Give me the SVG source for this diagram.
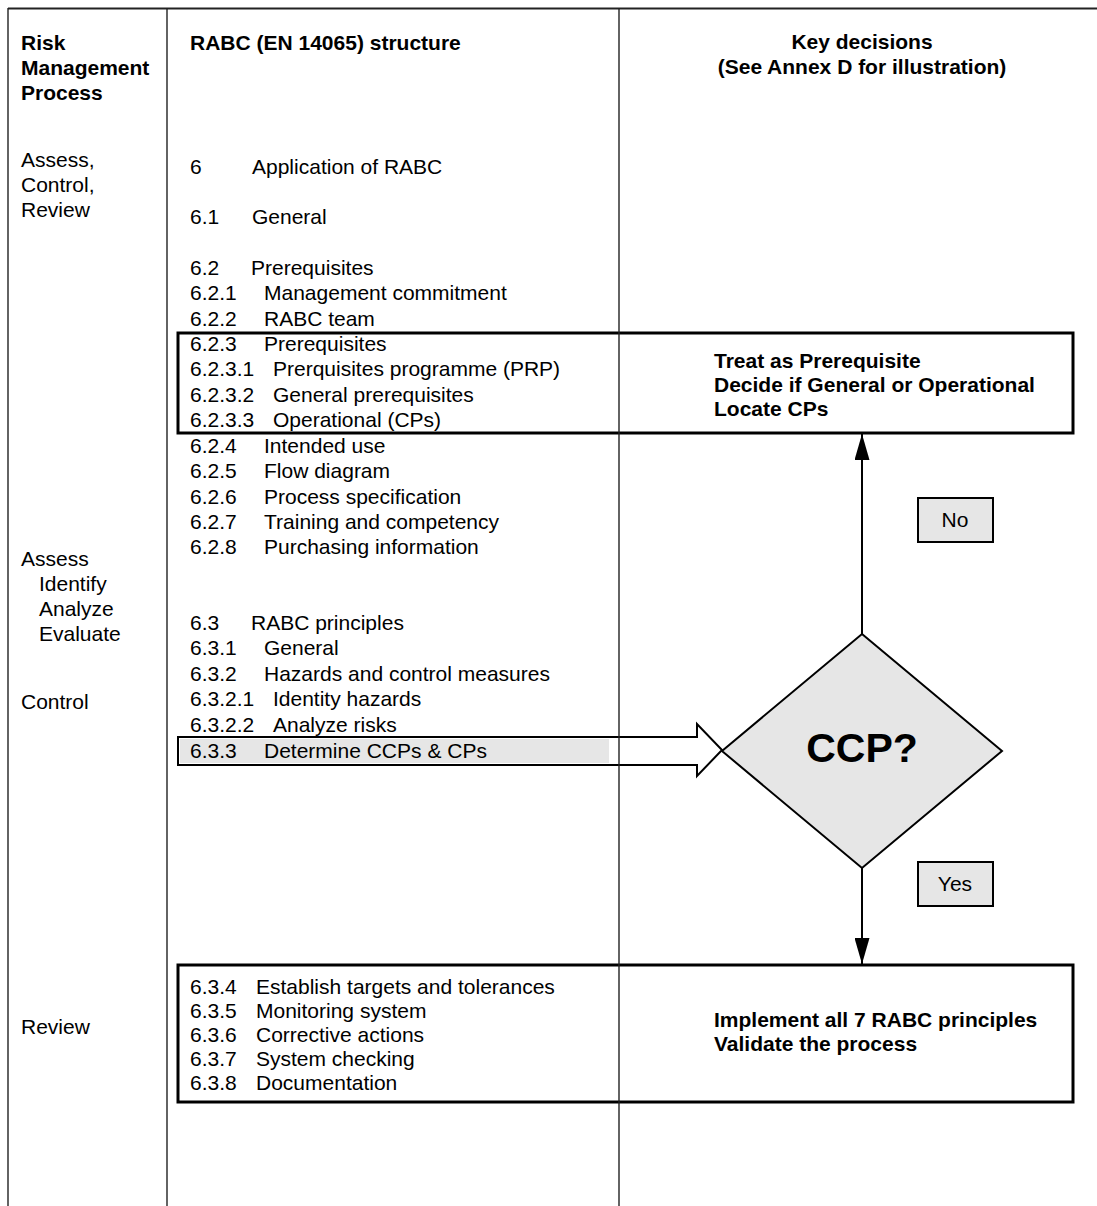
<svg xmlns="http://www.w3.org/2000/svg" width="1097" height="1206" viewBox="0 0 1097 1206">
<style>
text{font-family:"Liberation Sans",Arial,sans-serif;font-size:21px;fill:#000}
.b{font-weight:bold}
.grid{stroke:#222;stroke-width:1.4;fill:none}
.box{fill:none;stroke:#000;stroke-width:3}
.lbl{fill:#e6e6e6;stroke:#000;stroke-width:2}
.c{text-anchor:middle}
</style>
<defs>
<marker id="ah" markerWidth="26" markerHeight="15" refX="26" refY="7.5" orient="auto" markerUnits="userSpaceOnUse" viewBox="0 0 26 15">
<path d="M0,0 L26,7.5 L0,15 Z" fill="#000"/>
</marker>
</defs>
<rect width="1097" height="1206" fill="#fff"/>

<g id="headers">
<text class="b" x="21" y="50">Risk</text>
<text class="b" x="21" y="75">Management</text>
<text class="b" x="21" y="100">Process</text>
<text class="b" x="190" y="50">RABC (EN 14065) structure</text>
<text class="b c" x="862" y="49">Key decisions</text>
<text class="b c" x="862" y="74">(See Annex D for illustration)</text>
</g>

<g id="process-column">
<text x="21" y="167">Assess,</text>
<text x="21" y="192">Control,</text>
<text x="21" y="217">Review</text>
<text x="21" y="566">Assess</text>
<text x="39" y="591">Identify</text>
<text x="39" y="616">Analyze</text>
<text x="39" y="641">Evaluate</text>
<text x="21" y="709">Control</text>
<text x="21" y="1034">Review</text>
</g>

<g id="structure-list">
<text x="190" y="174">6</text><text x="252" y="174">Application of RABC</text>
<text x="190" y="224">6.1</text><text x="252" y="224">General</text>
<text x="190" y="275">6.2</text><text x="251" y="275">Prerequisites</text>
<text x="190" y="300">6.2.1</text><text x="264" y="300">Management commitment</text>
<text x="190" y="326">6.2.2</text><text x="264" y="326">RABC team</text>
<text x="190" y="351">6.2.3</text><text x="264" y="351">Prerequisites</text>
<text x="190" y="376">6.2.3.1</text><text x="273" y="376">Prerquisites programme (PRP)</text>
<text x="190" y="402">6.2.3.2</text><text x="273" y="402">General prerequisites</text>
<text x="190" y="427">6.2.3.3</text><text x="273" y="427">Operational (CPs)</text>
<text x="190" y="453">6.2.4</text><text x="264" y="453">Intended use</text>
<text x="190" y="478">6.2.5</text><text x="264" y="478">Flow diagram</text>
<text x="190" y="504">6.2.6</text><text x="264" y="504">Process specification</text>
<text x="190" y="529">6.2.7</text><text x="264" y="529">Training and competency</text>
<text x="190" y="554">6.2.8</text><text x="264" y="554">Purchasing information</text>
<text x="190" y="630">6.3</text><text x="251" y="630">RABC principles</text>
<text x="190" y="655">6.3.1</text><text x="264" y="655">General</text>
<text x="190" y="681">6.3.2</text><text x="264" y="681">Hazards and control measures</text>
<text x="190" y="706">6.3.2.1</text><text x="273" y="706">Identity hazards</text>
<text x="190" y="732">6.3.2.2</text><text x="273" y="732">Analyze risks</text>
</g>

<g id="principles-box">
<rect class="box" x="178" y="965" width="895" height="137"/>
<text x="190" y="994">6.3.4</text><text x="256" y="994">Establish targets and tolerances</text>
<text x="190" y="1018">6.3.5</text><text x="256" y="1018">Monitoring system</text>
<text x="190" y="1042">6.3.6</text><text x="256" y="1042">Corrective actions</text>
<text x="190" y="1066">6.3.7</text><text x="256" y="1066">System checking</text>
<text x="190" y="1090">6.3.8</text><text x="256" y="1090">Documentation</text>
<text class="b" x="714" y="1027">Implement all 7 RABC principles</text>
<text class="b" x="714" y="1051">Validate the process</text>
</g>

<g id="prerequisite-box">
<rect class="box" x="178" y="333" width="895" height="100"/>
<text class="b" x="714" y="368">Treat as Prerequisite</text>
<text class="b" x="714" y="392">Decide if General or Operational</text>
<text class="b" x="714" y="416">Locate CPs</text>
</g>

<g id="determine-arrow">
<polygon points="178,737 697,737 697,724 722,750 697,776 697,765 178,765" fill="#fff" stroke="#000" stroke-width="2"/>
<rect x="180" y="739" width="429" height="24" fill="#e6e6e6"/>
<text x="190" y="758">6.3.3</text><text x="264" y="758">Determine CCPs &amp; CPs</text>
</g>

<g id="ccp-decision">
<polygon points="862,634 1002,751 862,868 722,751" fill="#e6e6e6" stroke="#000" stroke-width="2"/>
<text class="b c" x="862" y="762" style="font-size:41px">CCP?</text>
</g>

<g id="no-label">
<rect class="lbl" x="918" y="498" width="75" height="44"/>
<text class="c" x="955" y="527">No</text>
</g>

<g id="yes-label">
<rect class="lbl" x="918" y="862" width="75" height="44"/>
<text class="c" x="955" y="891">Yes</text>
</g>

<g id="connectors" stroke="#000" stroke-width="2" fill="none">
<line x1="862" y1="634" x2="862" y2="434" marker-end="url(#ah)"/>
<line x1="862" y1="868" x2="862" y2="964" marker-end="url(#ah)"/>
</g>

<g id="grid">
<line class="grid" x1="8" y1="8.5" x2="1097" y2="8.5" style="stroke-width:2"/>
<line class="grid" x1="8" y1="8" x2="8" y2="1206"/>
<line class="grid" x1="167" y1="8" x2="167" y2="1206"/>
<line class="grid" x1="619" y1="8" x2="619" y2="1206"/>
</g>
</svg>
